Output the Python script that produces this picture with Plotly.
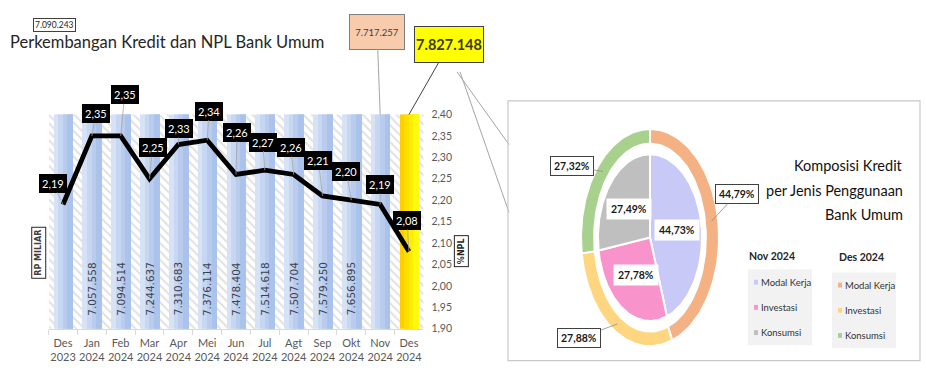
import math
import plotly.graph_objects as go

# ---------------- data ----------------
months = ["Des", "Jan", "Feb", "Mar", "Apr", "Mei", "Jun", "Jul", "Agt", "Sep", "Okt", "Nov", "Des"]
years = ["2023"] + ["2024"] * 12
credit = [7090243, 7057558, 7094514, 7244637, 7310683, 7376114, 7478404,
          7514618, 7507704, 7579250, 7656895, 7717257, 7827148]
npl = [2.19, 2.35, 2.35, 2.25, 2.33, 2.34, 2.26, 2.27, 2.26, 2.21, 2.20, 2.19, 2.08]

segments = ["Modal Kerja", "Investasi", "Konsumsi"]
share_nov = [44.73, 27.78, 27.49]
share_des = [44.79, 27.88, 27.32]

# ---------------- style ----------------
W, H = 926, 387
NARROW = "Lato, Roboto, sans-serif"
colors_nov = ["#c9c9f8", "#f993cb", "#bfbfbf"]
colors_des = ["#f4b183", "#ffd680", "#a9d18e"]


def px(x):
    return x / W


def py(y):
    return 1 - y / H


def fmt_id(v):
    return f"{v:,}".replace(",", ".")


def fmt_dec(v):
    return f"{v:.2f}".replace(".", ",")


cats = [f"{m}<br>{y}" for m, y in zip(months, years)]
n = len(cats)

fig = go.Figure()

# hatched background (full-width bars)
fig.add_trace(go.Bar(
    x=cats, y=credit, width=1.0, yaxis="y",
    marker=dict(color="white", line=dict(width=0),
                pattern=dict(shape="\\", fgcolor="#c4c4c4", bgcolor="white", size=6, solidity=0.35)),
    hoverinfo="skip", showlegend=False))

# gradient-like layered bars
layers = [
    (0.68, -0.34, "#d6e2f5", "#ffcf00"),
    (0.52, -0.18, "#c8d7f1", "#ffdf00"),
    (0.36, -0.02, "#b9cced", "#ffee00"),
    (0.20, 0.14, "#abc2ea", "#fffa10"),
]
for w, off, cb, cy in layers:
    fig.add_trace(go.Bar(
        x=cats, y=credit, width=w, offset=off, yaxis="y",
        marker=dict(color=[cb] * (n - 1) + [cy], line=dict(width=0)),
        hoverinfo="skip", showlegend=False))

# NPL line
fig.add_trace(go.Scatter(
    x=cats, y=npl, yaxis="y2", mode="lines",
    line=dict(color="black", width=4.8), hoverinfo="skip", showlegend=False))

annotations = []
shapes = []

# NPL labels
npl_offsets = [(-10, -21), (4, -22), (4, -41), (3, -31), (1, -16), (2, -29), (1, -42),
               (-2, -28), (-3, -27), (-4, -35), (-5, -29), (0, -20), (-2, -31)]
for c, v, (ax, ay) in zip(cats, npl, npl_offsets):
    annotations.append(dict(
        x=c, y=v, xref="x", yref="y2", text=fmt_dec(v), showarrow=True,
        ax=ax, ay=ay, arrowhead=0, arrowwidth=0.8, arrowcolor="#a6a6a6",
        bgcolor="black", bordercolor="black", borderpad=2,
        font=dict(family=NARROW, size=11, color="white")))

# rotated credit values in bars (first, Nov and Des 2024 values are shown in boxes)
for i in range(1, n - 2):
    annotations.append(dict(
        x=cats[i], y=py(292), xref="x", yref="paper", text=fmt_id(credit[i]),
        showarrow=False, textangle=-90, xanchor="center", yanchor="middle",
        font=dict(family="DejaVu Sans", size=10.5, color="#3a4150")))

# value boxes
annotations.append(dict(
    x=px(32.5), y=py(12), xref="paper", yref="paper", text=fmt_id(credit[0]),
    showarrow=False, bgcolor="white", bordercolor="#404040", borderwidth=1, borderpad=1,
    font=dict(family=NARROW, size=8.5, color="#262626")))
annotations.append(dict(
    x=cats[n - 2], y=2.40, xref="x", yref="y2", text=fmt_id(credit[n - 2]),
    showarrow=True, ax=-3, ay=-83, arrowhead=0, arrowwidth=1, arrowcolor="#a6a6a6",
    width=52, height=32, bgcolor="#f8cbad", bordercolor="#7f7f7f", borderwidth=1,
    font=dict(family=NARROW, size=9.5, color="#404040")))
annotations.append(dict(
    x=cats[n - 1], y=2.40, xref="x", yref="y2", text="<b>" + fmt_id(credit[n - 1]) + "</b>",
    showarrow=True, ax=40, ay=-70, arrowhead=0, arrowwidth=1, arrowcolor="#404040",
    width=66, height=33, bgcolor="#ffff00", bordercolor="#404040", borderwidth=1,
    font=dict(family=NARROW, size=14.5, color="#3a3a22")))

# title
annotations.append(dict(
    x=px(8), y=py(37), xref="paper", yref="paper", xanchor="left", yanchor="middle",
    text="Perkembangan Kredit dan NPL Bank Umum", showarrow=False,
    font=dict(family=NARROW, size=16.5, color="#262626")))

# axis titles (boxed)
annotations.append(dict(
    x=px(31.5), y=py(281.5), xref="paper", yref="paper", text="<b>RP MILIAR</b>",
    showarrow=False, textangle=-90, bgcolor="white", bordercolor="#262626", borderwidth=1,
    borderpad=2, font=dict(family="DejaVu Sans", size=8, color="#404040")))
annotations.append(dict(
    x=px(461.5), y=py(253.5), xref="paper", yref="paper", text="<b>%NPL</b>",
    showarrow=False, textangle=-90, bgcolor="white", bordercolor="#262626", borderwidth=1,
    borderpad=2, font=dict(family="DejaVu Sans", size=8, color="#262626")))

# connector lines yellow box -> panel
shapes.append(dict(type="line", xref="paper", yref="paper", x0=px(457), y0=py(68),
                   x1=px(509), y1=py(143), line=dict(color="#a6a6a6", width=1)))
shapes.append(dict(type="line", xref="paper", yref="paper", x0=px(460), y0=py(68),
                   x1=px(509), y1=py(213), line=dict(color="#a6a6a6", width=1)))

# donut panel
shapes.append(dict(type="rect", xref="paper", yref="paper", x0=px(508), y0=py(366),
                   x1=px(920), y1=py(98), line=dict(color="#c8c8c8", width=1.2),
                   fillcolor="rgba(0,0,0,0)"))

# ---------------- donut (elliptical, drawn on its own axes) ----------------
RING_O = (1.0, 1.0)
RING_I = (0.81, 0.866)
PIE = (0.754, 0.768)


def wedge(a0, a1, outer, inner=None, steps=80):
    ts = [a0 + (a1 - a0) * k / steps for k in range(steps + 1)]
    xs = [outer[0] * math.sin(t) for t in ts]
    ys = [outer[1] * math.cos(t) for t in ts]
    if inner is None:
        xs += [0.0]
        ys += [0.0]
    else:
        xs += [inner[0] * math.sin(t) for t in reversed(ts)]
        ys += [inner[1] * math.cos(t) for t in reversed(ts)]
    xs.append(xs[0])
    ys.append(ys[0])
    return xs, ys


def angles(shares):
    tot = sum(shares)
    out, acc = [], 0.0
    for s in shares:
        a0 = acc / tot * 2 * math.pi
        acc += s
        a1 = acc / tot * 2 * math.pi
        out.append((a0, a1))
    return out


for (a0, a1), col in zip(angles(share_des), colors_des):
    xs, ys = wedge(a0, a1, RING_O, RING_I)
    fig.add_trace(go.Scatter(x=xs, y=ys, xaxis="x3", yaxis="y3", mode="lines", fill="toself",
                             fillcolor=col, line=dict(color="white", width=2),
                             hoverinfo="skip", showlegend=False))
for (a0, a1), col in zip(angles(share_nov), colors_nov):
    xs, ys = wedge(a0, a1, PIE)
    fig.add_trace(go.Scatter(x=xs, y=ys, xaxis="x3", yaxis="y3", mode="lines", fill="toself",
                             fillcolor=col, line=dict(color="white", width=2),
                             hoverinfo="skip", showlegend=False))

# inner labels
for (a0, a1), v in zip(angles(share_nov), share_nov):
    m = (a0 + a1) / 2
    annotations.append(dict(
        x=0.53 * PIE[0] * math.sin(m), y=0.53 * PIE[1] * math.cos(m), xref="x3", yref="y3",
        text=f"<b>{fmt_dec(v)}%</b>", showarrow=False, bgcolor="white", borderpad=4,
        font=dict(family=NARROW, size=10.5, color="#1a1a1a")))

# outer labels
outer_offsets = [(25, -27), (-38, 14), (-31, -5)]
rmx, rmy = (RING_O[0] + RING_I[0]) / 2, (RING_O[1] + RING_I[1]) / 2
for (a0, a1), v, (ax, ay) in zip(angles(share_des), share_des, outer_offsets):
    m = (a0 + a1) / 2
    annotations.append(dict(
        x=rmx * math.sin(m), y=rmy * math.cos(m), xref="x3", yref="y3",
        text=f"<b>{fmt_dec(v)}%</b>", showarrow=True, ax=ax, ay=ay, arrowhead=0,
        arrowwidth=0.8, arrowcolor="#8c8c8c", bgcolor="white", bordercolor="#404040",
        borderwidth=1, borderpad=3, font=dict(family=NARROW, size=10.5, color="#1a1a1a")))

# donut title
for txt, yy in zip(["Komposisi Kredit", "per Jenis Penggunaan", "Bank Umum"], [165, 190, 215]):
    annotations.append(dict(
        x=px(905), y=py(yy), xref="paper", yref="paper", xanchor="right", yanchor="middle",
        text=txt, showarrow=False, font=dict(family=NARROW, size=14.5, color="#111111")))

# manual legends
legend_specs = [
    ("Nov 2024", colors_nov, 747, 258, (748, 272, 812, 350), 754, [285, 311, 337]),
    ("Des 2024", colors_des, 837, 259, (832, 275, 896, 353), 838, [288, 314, 340]),
]
for title, cols, tx, ty, box, sx, ys_ in legend_specs:
    annotations.append(dict(
        x=px(tx), y=py(ty), xref="paper", yref="paper", xanchor="left", yanchor="middle",
        text=f"<b>{title}</b>", showarrow=False,
        font=dict(family=NARROW, size=10.5, color="#262626")))
    shapes.append(dict(type="rect", xref="paper", yref="paper", x0=px(box[0]), y0=py(box[3]),
                       x1=px(box[2]), y1=py(box[1]), fillcolor="#f2f2f2", line=dict(width=0),
                       layer="below"))
    for seg, col, yy in zip(segments, cols, ys_):
        shapes.append(dict(type="rect", xref="paper", yref="paper", x0=px(sx), y0=py(yy + 2.5),
                           x1=px(sx + 4), y1=py(yy - 2.5), fillcolor=col, line=dict(width=0)))
        annotations.append(dict(
            x=px(sx + 5), y=py(yy), xref="paper", yref="paper", xanchor="left", yanchor="middle",
            text=seg, showarrow=False, font=dict(family=NARROW, size=9.5, color="#333333")))

fig.update_layout(
    width=W, height=H, margin=dict(l=0, r=0, t=0, b=0),
    paper_bgcolor="white", plot_bgcolor="white",
    barmode="overlay", bargap=0, separators=",.",
    showlegend=False,
    xaxis=dict(domain=[px(48.6), px(423.4)], range=[-0.5, n - 0.5], type="category",
               showline=True, linecolor="#d9d9d9", linewidth=1, ticks="outside",
               tickson="boundaries", ticklen=5, tickcolor="#d9d9d9", showgrid=False,
               tickangle=0, ticklabelstandoff=4,
               tickfont=dict(family=NARROW, size=11, color="#595959"), fixedrange=True),
    yaxis=dict(domain=[py(333), py(112)], range=[0, 7.0e6], visible=False, fixedrange=True),
    yaxis2=dict(overlaying="y", side="right", anchor="x", range=[1.90, 2.40], dtick=0.05,
                tickformat=".2f", showgrid=False, showline=False, ticks="",
                ticklabelstandoff=7,
                tickfont=dict(family=NARROW, size=10.5, color="#595959"), fixedrange=True),
    xaxis3=dict(domain=[px(581), px(719)], range=[-1, 1], visible=False, anchor="y3",
                fixedrange=True),
    yaxis3=dict(domain=[py(351), py(127)], range=[-1, 1], visible=False, anchor="x3",
                fixedrange=True),
    annotations=annotations,
    shapes=shapes,
)

fig.write_html("out.html")
